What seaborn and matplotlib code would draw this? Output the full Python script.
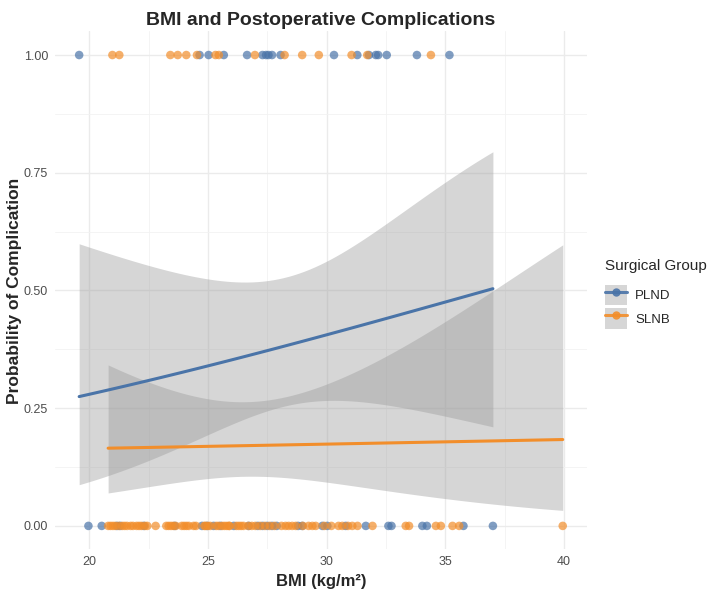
import numpy as np
import pandas as pd
import matplotlib
matplotlib.use("Agg")
import matplotlib.pyplot as plt
from matplotlib.lines import Line2D
from matplotlib.patches import Patch
from matplotlib.ticker import MultipleLocator
import seaborn as sns

# BMI values, split by group and outcome
plnd_comp = [19.58, 24.65, 25.03, 25.67, 26.65, 27.3, 27.45, 27.55, 27.7, 28.06,
             30.31, 31.29, 31.78, 32.07, 32.17, 32.53, 33.8, 35.17]
plnd_none = [19.97, 20.53, 21.17, 21.31, 22.3, 23.6, 24.75, 24.96, 25.24, 25.53,
             26.09, 26.72, 27.1, 27.3, 27.5, 27.7, 27.9, 28.8, 28.97, 29.82,
             30.03, 30.8, 31.65, 32.6, 32.73, 34.03, 34.22, 35.76, 37.0]
slnb_comp = [20.98, 21.27, 23.42, 23.73, 24.09, 24.54, 25.32, 25.46, 26.98, 28.23,
             28.97, 29.67, 31.05, 31.71, 34.39]
slnb_none = [20.8, 20.9, 21.0, 21.1, 21.25, 21.4, 21.5, 21.6, 21.75, 21.85,
             22.0, 22.1, 22.2, 22.35, 22.45, 22.8, 23.25, 23.35, 23.45, 23.55,
             23.65, 23.9, 24.0, 24.1, 24.2, 24.4, 24.5, 24.85, 25.1, 25.35,
             25.45, 25.7, 25.8, 25.6, 25.9, 26.2, 26.4, 26.5, 26.85, 28.27,
             28.4, 28.55, 29.24, 29.54, 30.5, 30.66, 31.08, 31.93, 33.33, 33.47,
             34.6, 34.81, 35.3, 35.58, 39.94, 24.9, 25.9, 26.3, 26.7, 27.0,
             27.2, 27.4, 27.6, 27.8, 28.1, 28.7, 29.0, 29.4, 29.9, 30.2,
             30.9, 31.3, 25.0]

groups = ["PLND", "SLNB"]
colors = {"PLND": "#4A74A8", "SLNB": "#F28E2B"}

df = pd.concat([
    pd.DataFrame({"bmi": plnd_comp, "comp": 1, "group": "PLND"}),
    pd.DataFrame({"bmi": plnd_none, "comp": 0, "group": "PLND"}),
    pd.DataFrame({"bmi": slnb_comp, "comp": 1, "group": "SLNB"}),
    pd.DataFrame({"bmi": slnb_none, "comp": 0, "group": "SLNB"}),
], ignore_index=True)


def fit_logit(x, y):
    # plain IRLS, returns coefficients and their covariance
    X = np.column_stack([np.ones_like(x), x])
    b = np.zeros(2)
    for _ in range(100):
        p = 1 / (1 + np.exp(-X @ b))
        w = p * (1 - p)
        H = X.T @ (X * w[:, None])
        step = np.linalg.solve(H, X.T @ (y - p))
        b += step
        if np.abs(step).max() < 1e-10:
            break
    return b, np.linalg.inv(H)


def expit(v):
    return 1 / (1 + np.exp(-v))


sns.set_style("white")
plt.rcParams["font.family"] = ["Liberation Sans", "DejaVu Sans"]

fig = plt.figure(figsize=(7.14, 5.94), dpi=100)
ax = fig.add_axes([0.077, 0.075, 0.745, 0.872])

sns.scatterplot(data=df, x="bmi", y="comp", hue="group", palette=colors,
                hue_order=groups, s=38, alpha=0.7, edgecolor="none",
                legend=False, ax=ax, zorder=3)

fits = []
for g in groups:
    sub = df[df.group == g]
    x = sub.bmi.to_numpy(float)
    y = sub.comp.to_numpy(float)
    b, cov = fit_logit(x, y)
    grid = np.linspace(x.min(), x.max(), 80)
    G = np.column_stack([np.ones_like(grid), grid])
    eta = G @ b
    se = np.sqrt(np.einsum("ij,jk,ik->i", G, cov, G))
    fits.append(pd.DataFrame({"bmi": grid, "p": expit(eta), "group": g}))
    ax.fill_between(grid, expit(eta - 1.96 * se), expit(eta + 1.96 * se),
                    color="#999999", alpha=0.4, linewidth=0, zorder=4)

fit_df = pd.concat(fits, ignore_index=True)
sns.lineplot(data=fit_df, x="bmi", y="p", hue="group", palette=colors,
             hue_order=groups, linewidth=2.2, legend=False, ax=ax, zorder=5)

lo, hi = df.bmi.min(), df.bmi.max()
pad = (hi - lo) * 0.05
ax.set_xlim(lo - pad, hi + pad)
ax.set_ylim(-0.05, 1.05)
ax.xaxis.set_major_locator(MultipleLocator(5))
ax.xaxis.set_minor_locator(MultipleLocator(2.5))
ax.yaxis.set_major_locator(MultipleLocator(0.25))
ax.yaxis.set_minor_locator(MultipleLocator(0.125))
ax.yaxis.set_major_formatter(plt.FuncFormatter(lambda v, _: f"{v:.2f}"))
ax.grid(which="major", color="#EBEBEB", linewidth=1.0)
ax.grid(which="minor", color="#F2F2F2", linewidth=0.6)
ax.set_axisbelow(True)
for s in ax.spines.values():
    s.set_visible(False)
ax.tick_params(which="both", length=0, labelsize=9, labelcolor="#4D4D4D", pad=5)

ax.set_title("BMI and Postoperative Complications", fontsize=14, fontweight="bold", pad=5)
ax.set_xlabel("BMI (kg/m²)", fontsize=12, fontweight="bold", labelpad=4)
ax.set_ylabel("Probability of Complication", fontsize=12.5, fontweight="bold", labelpad=1)

handles = [(Patch(facecolor="#999999", alpha=0.4, edgecolor="none"),
            Line2D([], [], color=colors[g], lw=2.2, marker="o", markersize=6,
                   markeredgecolor="none", alpha=0.9)) for g in groups]
leg = fig.legend(handles, groups, title="Surgical Group", loc="center left",
                 bbox_to_anchor=(0.838, 0.505), frameon=False, fontsize=9.5,
                 title_fontsize=11, handlelength=1.7, handleheight=2.0,
                 labelspacing=0.25, borderpad=0, handletextpad=0.6)
leg._legend_box.align = "left"
leg._legend_box.sep = 8

fig.savefig("out.png", dpi=100)
